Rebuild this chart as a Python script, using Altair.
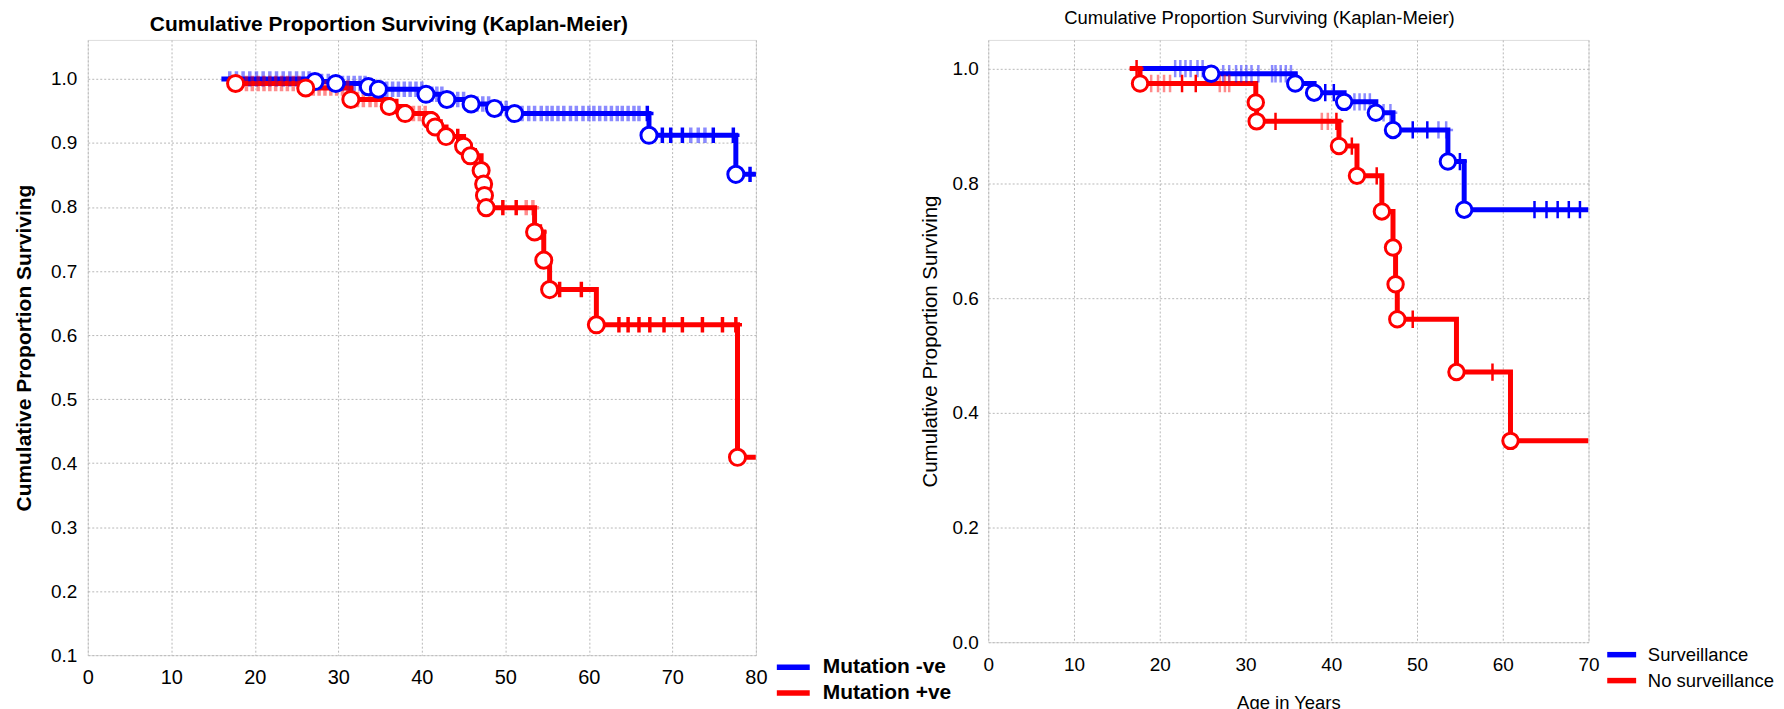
import altair as alt
import pandas as pd

# ---------------- Left panel: mutation status ----------------
mut_groups = ["Mutation -ve", "Mutation +ve"]
mut_colors = ["#0000ff", "#ff0000"]

neg_start, neg_end = 16.0, 80.0
neg_event_t = [27.2, 29.7, 33.6, 34.8, 40.5, 43.0, 45.9, 48.7, 51.1, 67.2, 77.6]
neg_event_s = [0.996, 0.993, 0.988, 0.984, 0.976, 0.968, 0.961, 0.954, 0.946, 0.912, 0.851]
neg_censor_t = [17.0, 17.8, 18.6, 19.4, 20.2, 21.0, 21.8, 22.6, 23.4, 24.2, 25.0, 25.8, 26.5,
                28.0, 28.8, 30.5, 31.2, 31.9, 32.6, 33.2, 34.2, 35.8, 36.5, 37.2, 37.9, 38.6,
                39.3, 40.0, 41.2, 41.8, 42.4, 43.6, 44.3, 45.0, 46.6, 47.3, 48.0, 49.4, 50.1,
                52.0, 52.8, 53.5, 54.3, 55.0, 55.6, 56.3, 57.0, 57.8, 58.5, 59.3, 60.0, 60.6,
                61.3, 62.0, 62.7, 63.4, 64.0, 64.7, 65.4, 66.0, 67.0, 68.8, 69.8, 71.2, 72.2,
                73.1, 73.9, 74.9, 77.3, 79.3]

pos_start, pos_end = 16.8, 80.0
pos_event_t = [17.7, 26.1, 31.5, 36.1, 38.0, 41.1, 41.6, 42.9, 45.0, 45.8, 47.1, 47.4, 47.5,
               47.7, 53.5, 54.6, 55.3, 60.9, 77.8]
pos_event_s = [0.993, 0.986, 0.968, 0.957, 0.946, 0.935, 0.925, 0.910, 0.895, 0.880, 0.857,
               0.836, 0.818, 0.799, 0.761, 0.717, 0.671, 0.616, 0.409]
pos_censor_t = [19.0, 19.7, 20.4, 21.1, 21.8, 22.5, 23.2, 23.9, 24.6, 25.3, 27.0, 27.7, 28.4,
                29.1, 29.8, 30.5, 31.1, 32.3, 33.0, 33.8, 34.5, 35.3, 37.0, 39.0, 39.7, 40.4,
                42.3, 44.3, 46.4, 49.7, 51.3, 52.5, 53.3, 54.2, 56.5, 59.1, 63.6, 64.7, 66.0,
                67.3, 69.0, 71.2, 73.6, 76.0, 77.6]

left_x_ticks = [0, 10, 20, 30, 40, 50, 60, 70, 80]
left_y_ticks = [0.1, 0.2, 0.3, 0.4, 0.5, 0.6, 0.7, 0.8, 0.9, 1.0]

# ---------------- Right panel: surveillance ----------------
sur_groups = ["Surveillance", "No surveillance"]
sur_colors = ["#0000ff", "#ff0000"]

sur_start, sur_end = 17.7, 70.0
sur_event_t = [26.0, 35.8, 38.0, 41.5, 45.2, 47.2, 53.6, 55.5]
sur_event_s = [0.991, 0.974, 0.958, 0.942, 0.923, 0.893, 0.838, 0.754]
sur_censor_t = [21.8, 22.4, 23.0, 23.6, 24.4, 25.0, 27.4, 28.1, 28.9, 29.5, 30.1, 30.7, 31.5,
                33.1, 33.5, 34.1, 34.7, 35.3, 39.3, 40.3, 42.7, 43.3, 43.9, 44.5, 46.1, 46.9,
                49.5, 51.2, 52.5, 53.4, 55.0, 63.7, 65.1, 66.4, 67.7, 69.0]

nos_start, nos_end = 16.5, 70.0
nos_event_t = [17.7, 31.2, 31.3, 40.9, 43.0, 45.9, 47.2, 47.5, 47.7, 54.6, 60.9]
nos_event_s = [0.974, 0.941, 0.908, 0.865, 0.813, 0.751, 0.688, 0.624, 0.563, 0.471, 0.351]
nos_censor_t = [17.3, 19.0, 19.8, 20.5, 21.2, 22.6, 24.2, 27.0, 27.6, 28.1, 33.5, 38.9, 39.6,
                40.6, 42.4, 45.3, 49.5, 58.8]

right_x_ticks = [0, 10, 20, 30, 40, 50, 60, 70]
right_y_ticks = [0.0, 0.2, 0.4, 0.6, 0.8, 1.0]


def km_tables(group, start, end, ev_t, ev_s, cen_t):
    def surv(t):
        s = 1.0
        for et, es in zip(ev_t, ev_s):
            if et <= t:
                s = es
        return s

    pts = [(start, 1.0)] + list(zip(ev_t, ev_s)) + [(t, surv(t)) for t in cen_t] + [(end, surv(end))]
    pts.sort(key=lambda p: p[0])
    line = pd.DataFrame({"t": [p[0] for p in pts], "s": [p[1] for p in pts], "group": group})
    events = pd.DataFrame({"t": ev_t, "s": ev_s, "group": group})
    crowded = []
    for i, t in enumerate(cen_t):
        others = [abs(t - u) for j, u in enumerate(cen_t) if j != i]
        crowded.append(bool(others) and min(others) < 0.9)
    censors = pd.DataFrame({"t": cen_t, "s": [surv(t) for t in cen_t],
                            "group": group, "crowded": crowded})
    return line, events, censors


def panel(tables, groups, colors, xmax, ydom, xticks, yticks, width, height, title,
          sty, legend_xy):
    lines = pd.concat([t[0] for t in tables])
    events = pd.concat([t[1] for t in tables])
    censors = pd.concat([t[2] for t in tables])

    xs = alt.Scale(domain=[0, xmax], nice=False, zero=False)
    ys = alt.Scale(domain=ydom, nice=False, zero=False)
    xaxis = alt.Axis(values=xticks, format="d", title=sty["xtitle"], grid=True,
                     gridDash=[2, 2], gridColor="#b8b8b8", gridWidth=1, domain=False,
                     ticks=False, labelFont=sty["font"], labelFontSize=sty["xlab"],
                     labelColor="black", labelPadding=sty["xpad"], labelFlush=False,
                     titleFont=sty["font"], titleFontSize=sty["xtitlesize"],
                     titleFontWeight="normal", titleColor="black",
                     titlePadding=sty["xtitlepad"])
    yaxis = alt.Axis(values=yticks, format=".1f", title=sty["ytitle"], grid=True,
                     gridDash=[2, 2], gridColor="#b8b8b8", gridWidth=1, domain=False,
                     ticks=False, labelFont=sty["font"], labelFontSize=sty["ylab"],
                     labelColor="black", labelPadding=sty["ypad"], labelFlush=False,
                     titleFont=sty["font"], titleFontSize=sty["ytitlesize"],
                     titleFontWeight=sty["ytitleweight"], titleColor="black",
                     titlePadding=sty["ytitlepad"])
    X = alt.X("t:Q", scale=xs, axis=xaxis)
    Y = alt.Y("s:Q", scale=ys, axis=yaxis)

    r = sty["symratio"]
    line = alt.Chart(lines).mark_line(interpolate="step-after", strokeWidth=sty["lw"],
                                       clip=True).encode(
        x=X, y=Y,
        color=alt.Color("group:N", scale=alt.Scale(domain=groups, range=colors),
                        legend=alt.Legend(title=None, orient="none",
                                          legendX=legend_xy[0], legendY=legend_xy[1],
                                          symbolType=f"M-{r},0L{r},0",
                                          symbolStrokeWidth=5.5,
                                          symbolSize=sty["symsize"], labelFont=sty["font"],
                                          labelFontSize=sty["legsize"],
                                          labelFontWeight=sty["legweight"],
                                          labelColor="black", labelOffset=sty["laboff"],
                                          rowPadding=0, padding=0, labelLimit=400)),
        order="t:Q",
    )
    cens = alt.Chart(censors).mark_point(shape="M-0.8,0L0.8,0M0,-1L0,1", filled=False,
                                         size=sty["csize"], strokeWidth=sty["cw"],
                                         clip=True).encode(
        x=X, y=Y,
        stroke=alt.Stroke("group:N", scale=alt.Scale(domain=groups, range=colors), legend=None),
        opacity=alt.condition("datum.crowded", alt.value(0.45), alt.value(1.0)),
    )
    circ = alt.Chart(events).mark_point(shape="circle", filled=True, fill="white",
                                        fillOpacity=1, opacity=1, size=sty["osize"],
                                        strokeWidth=3, clip=True).encode(
        x=X, y=Y,
        stroke=alt.Stroke("group:N", scale=alt.Scale(domain=groups, range=colors), legend=None),
    )
    return alt.layer(line, cens, circ).properties(
        width=width, height=height, title=title)


left_tables = [
    km_tables(mut_groups[0], neg_start, neg_end, neg_event_t, neg_event_s, neg_censor_t),
    km_tables(mut_groups[1], pos_start, pos_end, pos_event_t, pos_event_s, pos_censor_t),
]
right_tables = [
    km_tables(sur_groups[0], sur_start, sur_end, sur_event_t, sur_event_s, sur_censor_t),
    km_tables(sur_groups[1], nos_start, nos_end, nos_event_t, nos_event_s, nos_censor_t),
]

ARIAL = "Liberation Sans, Arial, sans-serif"

left_style = dict(font=ARIAL, xlab=20, ylab=19, xpad=12, ypad=11, xtitle=None, xtitlesize=20,
                  xtitlepad=10, ytitle="Cumulative Proportion Surviving",
                  ytitlesize=21, ytitleweight="bold", ytitlepad=16, lw=5, csize=240, cw=3.5,
                  osize=260, symsize=576, symratio=1.375, laboff=14.5, legsize=21,
                  legweight="bold")
right_style = dict(font=ARIAL, xlab=19, ylab=19, xpad=13.6, ypad=10, xtitle="Age in Years",
                   xtitlesize=18.5, xtitlepad=19, ytitle="Cumulative Proportion Surviving",
                   ytitlesize=20.5, ytitleweight="normal", ytitlepad=11.6,
                   lw=5, csize=300, cw=2.5, osize=240, symsize=552, symratio=1.234,
                   laboff=11.75, legsize=18.5, legweight="normal")

left = panel(left_tables, mut_groups, mut_colors, 80, [0.1, 1.061], left_x_ticks, left_y_ticks,
             670, 617,
             alt.TitleParams("Cumulative Proportion Surviving (Kaplan-Meier)", font=ARIAL,
                             fontSize=21, fontWeight="bold", color="black", offset=5,
                             anchor="middle", dx=-33),
             left_style, (692.5, 614))
right = panel(right_tables, sur_groups, sur_colors, 70, [0.0, 1.05], right_x_ticks,
              right_y_ticks, 602, 604,
              alt.TitleParams("Cumulative Proportion Surviving (Kaplan-Meier)", font=ARIAL,
                              fontSize=18.5, fontWeight="normal", color="black", offset=12,
                              anchor="middle", dx=-29),
              right_style, (620.75, 602))

chart = alt.hconcat(left, right, spacing=233, bounds="flush").resolve_scale(
    color="independent", stroke="independent"
).properties(
    padding={"left": 5, "top": 0, "right": 0, "bottom": 0}
).configure_view(stroke="black", strokeWidth=1.5).configure(background="white")

chart.save("out.html", embed_options={"renderer": "svg", "actions": False})
